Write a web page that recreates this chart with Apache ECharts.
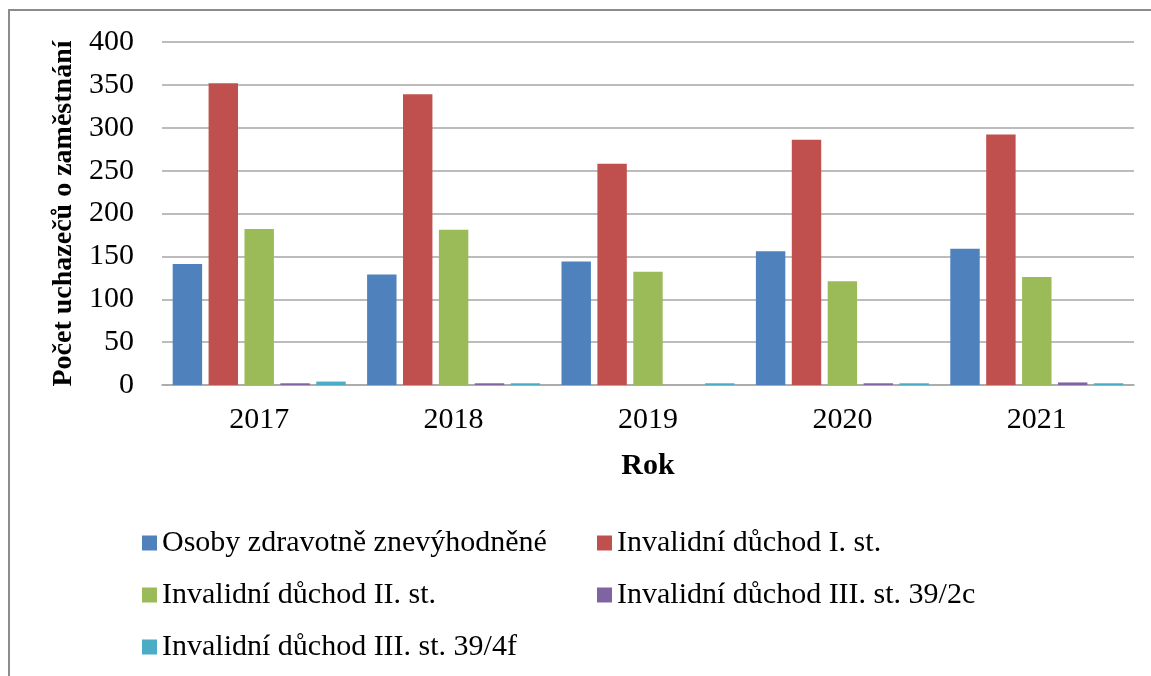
<!DOCTYPE html>
<html>
<head>
<meta charset="utf-8">
<script src="https://cdn.jsdelivr.net/npm/echarts@6/dist/echarts.min.js"></script>
<style>html,body{margin:0;padding:0;background:#fff}#c{width:1151px;height:676px}</style>
</head>
<body>
<div id="c"></div>
<script>
const categories = ['2017', '2018', '2019', '2020', '2021'];
const seriesNames = [
  'Osoby zdravotně znevýhodněné',
  'Invalidní důchod I. st.',
  'Invalidní důchod II. st.',
  'Invalidní důchod III. st. 39/2c',
  'Invalidní důchod III. st. 39/4f'
];
const osobyZdravotne = [141, 129, 144, 156, 159];
const invalidniI = [352, 339, 258, 286, 292];
const invalidniII = [182, 181, 132, 121, 126];
const invalidniIII_2c = [2, 2, 0, 2, 3];
const invalidniIII_4f = [4, 2, 2, 2, 2];
const yTicks = [0, 50, 100, 150, 200, 250, 300, 350, 400];
const colors = ['#4F81BD', '#C0504D', '#9BBB59', '#8064A2', '#4BACC6'];

const allData = [osobyZdravotne, invalidniI, invalidniII, invalidniIII_2c, invalidniIII_4f];
const FONT = '"Liberation Serif", "Times New Roman", serif';

const legendPos = [
  {left: 142, top: 528},
  {left: 597, top: 528},
  {left: 142, top: 580},
  {left: 597, top: 580},
  {left: 142, top: 632}
];

const chart = echarts.init(document.getElementById('c'), null, {renderer: 'canvas'});
chart.setOption({
  animation: false,
  backgroundColor: '#fff',
  color: colors,
  graphic: [{
    type: 'rect',
    shape: {x: 9, y: 10, width: 1200, height: 720},
    style: {fill: 'none', stroke: '#8C8C8C', lineWidth: 2},
    silent: true
  }],
  legend: seriesNames.map((n, i) => ({
    data: [n],
    left: legendPos[i].left,
    top: legendPos[i].top,
    itemWidth: 15,
    itemHeight: 15,
    icon: 'rect',
    padding: 0,
    textStyle: {fontFamily: FONT, fontSize: 30, color: '#000', lineHeight: 30}
  })),
  grid: {left: 162, right: 17, top: 42, bottom: 291, containLabel: false},
  xAxis: {
    type: 'category',
    data: categories,
    name: 'Rok',
    nameLocation: 'middle',
    nameGap: 66,
    nameTextStyle: {fontFamily: FONT, fontSize: 30, fontWeight: 'bold', color: '#000'},
    axisLine: {lineStyle: {color: '#A6A6A6', width: 1.5}},
    axisTick: {show: false},
    axisLabel: {fontFamily: FONT, fontSize: 30, color: '#000', margin: 20}
  },
  yAxis: {
    type: 'value',
    min: 0,
    max: 400,
    interval: 50,
    name: 'Počet uchazečů o zaměstnání',
    nameLocation: 'middle',
    nameRotate: 90,
    nameGap: 84,
    nameTextStyle: {fontFamily: FONT, fontSize: 28, fontWeight: 'bold', color: '#000'},
    axisLine: {show: false},
    axisTick: {show: false},
    axisLabel: {
      fontFamily: FONT, fontSize: 30, color: '#000', margin: 28,
      formatter: v => yTicks.includes(v) ? String(v) : ''
    },
    splitLine: {lineStyle: {color: '#A6A6A6', width: 1.5}}
  },
  series: seriesNames.map((n, i) => ({
    name: n,
    type: 'bar',
    data: allData[i],
    barGap: '22%',
    barCategoryGap: '11%',
    itemStyle: {color: colors[i]}
  }))
});
</script>
</body>
</html>
